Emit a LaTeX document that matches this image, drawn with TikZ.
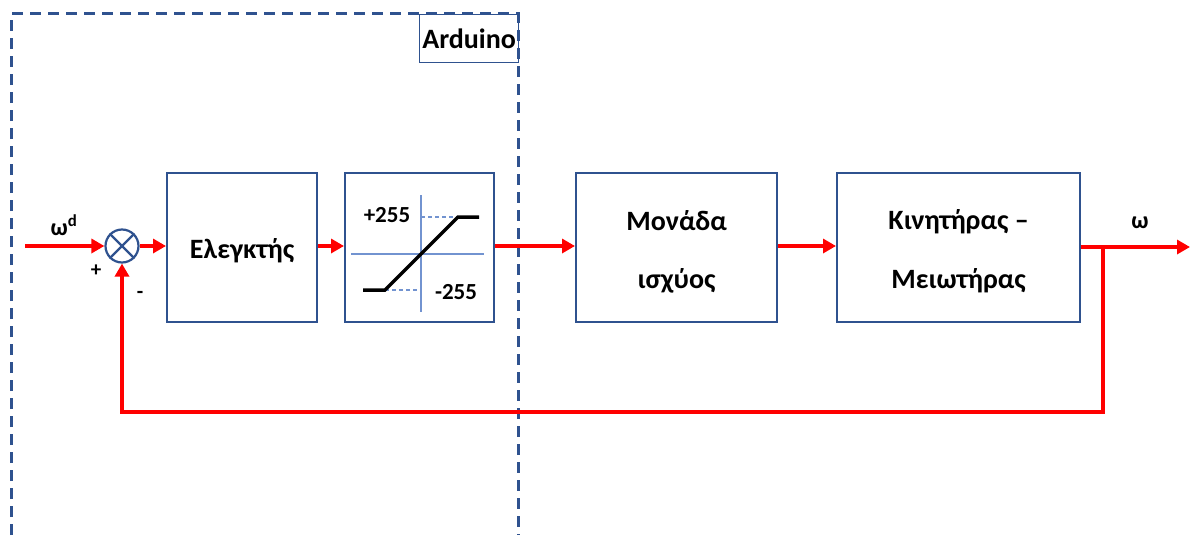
\documentclass[tikz,border=0pt]{standalone}
\usepackage{fontspec}
\setmainfont{Carlito}
\usetikzlibrary{arrows.meta}
\definecolor{frameblue}{RGB}{47,82,143}
\definecolor{axisblue}{RGB}{114,147,208}
\definecolor{sigred}{RGB}{255,0,0}
\tikzset{
  block/.style={draw=frameblue, line width=2.2pt, fill=white, minimum width=150pt, minimum height=149pt, anchor=north west, inner sep=0pt},
  blocktext/.style={font=\bfseries\fontsize{28}{34}\selectfont, align=center, inner sep=0pt},
  signal/.style={draw=sigred, line width=4pt, -{Triangle[length=13pt,width=14pt]}},
  sigline/.style={draw=sigred, line width=4pt},
  lbl/.style={font=\bfseries\fontsize{24}{26}\selectfont, inner sep=0pt},
  axis/.style={draw=axisblue, line width=1.3pt},
  guide/.style={draw=axisblue, line width=1.3pt, dash pattern=on 4pt off 3pt},
}
\begin{document}
\begin{tikzpicture}[x=1pt, y=-1pt]
\useasboundingbox (0,0) rectangle (1190,535);

% Arduino region (open at the bottom)
\draw[frameblue, line width=3pt, dash pattern=on 11pt off 7pt] (11,535) -- (11,14) -- (518,14) -- (518,535);
\node[draw=frameblue, line width=1.2pt, minimum width=99pt, minimum height=48pt, anchor=north west, inner sep=0pt, font=\bfseries\fontsize{28}{30}\selectfont] (arduino) at (419,14) {Arduino};

% blocks
\node[block] (ctrl) at (166,172) {};
\node[block, minimum width=149pt] (sat) at (344,172) {};
\node[block, minimum width=201pt] (power) at (575,172) {};
\node[block, minimum width=243pt] (motor) at (836,172) {};

\node[blocktext] (ctrltxt) at ([yshift=-3pt]ctrl.center) {Ελεγκτής};
\node[blocktext, font=\bfseries\fontsize{28}{58}\selectfont] (powertxt) at ([yshift=-4pt]power.center) {Μονάδα\\ισχύος};
\node[blocktext, font=\bfseries\fontsize{28}{59}\selectfont] (motortxt) at ([yshift=-4pt]motor.center) {Κινητήρας –\\Μειωτήρας};

% saturation characteristic
\draw[axis] (351,254) -- (484,254);
\draw[axis] (421,195) -- (421,312);
\draw[guide] (385,290) -- (421,290);
\draw[guide] (421,217) -- (458,217);
\draw[black, line width=3.5pt] (363,290) -- (385,290) -- (458,217) -- (479,217);
\node[lbl, font=\bfseries\fontsize{23}{24}\selectfont] (hi) at (387,215) {+255};
\node[lbl, font=\bfseries\fontsize{23}{24}\selectfont] (lo) at (456,292) {-255};

% summing junction
\node[draw=frameblue, line width=2.2pt, circle, minimum size=33pt, inner sep=0pt] (sum) at (122,246) {};
\draw[frameblue, line width=2.2pt] (sum.north west) -- (sum.south east) (sum.north east) -- (sum.south west);

% signal path
\coordinate (in) at (25,246);
\coordinate (out) at (1190,247);
\coordinate (branch) at (1103,247);
\coordinate (fbR) at (1103,412);
\coordinate (fbL) at (122,412);

\draw[signal] (in) -- (sum.west);
\draw[signal] (sum.east) -- (ctrl.west |- sum.east);
\draw[signal] (ctrl.east |- sum.east) -- (sat.west |- sum.east);
\draw[signal] (sat.east |- sum.east) -- (power.west |- sum.east);
\draw[signal] (power.east |- sum.east) -- (motor.west |- sum.east);
\draw[signal] (motor.east |- out) -- (out);
\draw[sigline, line join=miter] (branch) -- (fbR) -- (fbL) -- (fbL |- 0,300);
\draw[signal] (fbL |- 0,300) -- (sum.south);

% labels
\node[lbl] (wd) at (64,225) {ω\textsuperscript{d}};
\node[lbl, font=\bfseries\fontsize{21}{22}\selectfont] (plus) at (96,271) {+};
\node[lbl, font=\bfseries\fontsize{21}{22}\selectfont] (minus) at (140,295) {-};
\node[lbl] (w) at (1140,223) {ω};
\end{tikzpicture}
\end{document}
